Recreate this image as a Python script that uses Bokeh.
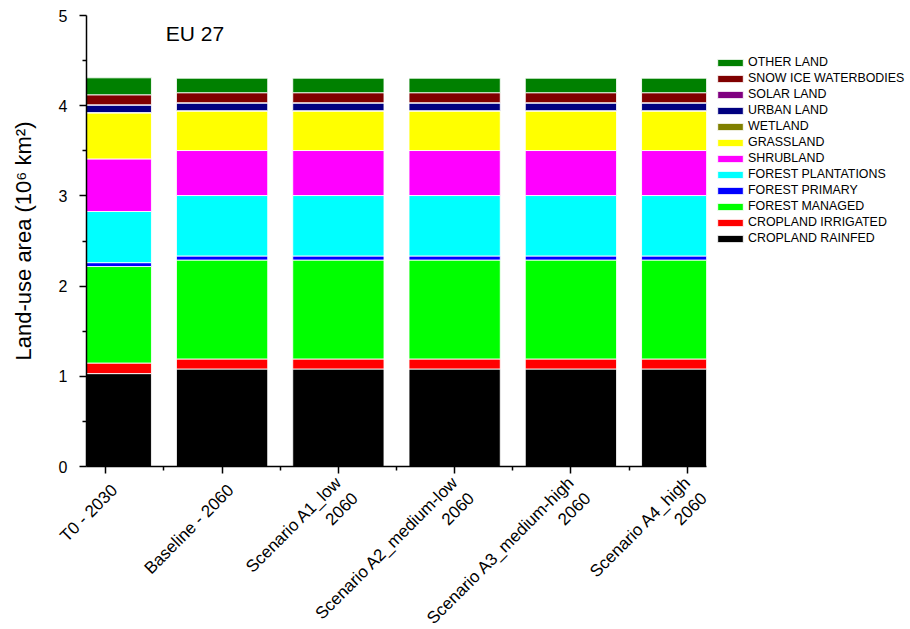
import math
from bokeh.plotting import figure
from bokeh.models import (Range1d, FixedTicker, Legend, LegendItem, Label,
                          ColumnDataSource, LinearAxis, CustomLabelingPolicy)
from bokeh.embed import file_html
from bokeh.resources import INLINE

# ---------------- data ----------------
categories = ["T0 - 2030", "Baseline - 2060", "Scenario A1_low\n2060",
              "Scenario A2_medium-low\n2060", "Scenario A3_medium-high\n2060",
              "Scenario A4_high\n2060"]

series_names = ["CROPLAND RAINFED", "CROPLAND IRRIGATED", "FOREST MANAGED",
                "FOREST PRIMARY", "FOREST PLANTATIONS", "SHRUBLAND", "GRASSLAND",
                "WETLAND", "URBAN LAND", "SOLAR LAND", "SNOW ICE WATERBODIES",
                "OTHER LAND"]

cropland_rainfed   = [1.030, 1.081, 1.081, 1.081, 1.081, 1.081]
cropland_irrigated = [0.117, 0.111, 0.111, 0.111, 0.111, 0.111]
forest_managed     = [1.070, 1.097, 1.097, 1.097, 1.097, 1.097]
forest_primary     = [0.043, 0.045, 0.045, 0.045, 0.045, 0.045]
forest_plantations = [0.567, 0.670, 0.670, 0.670, 0.670, 0.670]
shrubland          = [0.583, 0.499, 0.499, 0.499, 0.499, 0.499]
grassland          = [0.510, 0.438, 0.438, 0.438, 0.438, 0.438]
wetland            = [0.004, 0.004, 0.004, 0.004, 0.004, 0.004]
urban_land         = [0.084, 0.085, 0.085, 0.085, 0.085, 0.085]
solar_land         = [0.002, 0.003, 0.003, 0.003, 0.003, 0.003]
snow_ice_water     = [0.111, 0.111, 0.111, 0.111, 0.111, 0.111]
other_land         = [0.188, 0.161, 0.161, 0.161, 0.161, 0.161]

series_values = [cropland_rainfed, cropland_irrigated, forest_managed,
                 forest_primary, forest_plantations, shrubland, grassland,
                 wetland, urban_land, solar_land, snow_ice_water, other_land]

colors = ["#000000", "#FF0000", "#00FF00", "#0000FF", "#00FFFF", "#FF00FF",
          "#FFFF00", "#808000", "#000080", "#800080", "#800000", "#008000"]

y_ticks = [0, 1, 2, 3, 4, 5]

# ---------------- build ----------------
FONT = "Liberation Sans"
xpos = list(range(len(categories)))
keys = ["s%d" % i for i in range(len(series_names))]
data = {"x": xpos}
for k, v in zip(keys, series_values):
    data[k] = v
source = ColumnDataSource(data)

X_PAD = 0.166
LABEL_SHIFT = 0.075  # labels sit slightly right of their ticks, as in the reference

p = figure(frame_width=620, frame_height=451, output_backend="svg",
           toolbar_location=None,
           x_range=Range1d(-X_PAD, len(categories) - 1 + X_PAD),
           y_range=Range1d(0, 5),
           min_border_left=86, min_border_right=204,
           min_border_top=15, min_border_bottom=10)
p.extra_x_ranges = {"labels": Range1d(-X_PAD - LABEL_SHIFT,
                                      len(categories) - 1 + X_PAD - LABEL_SHIFT)}

renderers = p.vbar_stack(keys, x="x", width=0.785, color=colors, source=source,
                         line_color="white", line_width=1, line_alpha=0.85)

p.xgrid.visible = False
p.ygrid.visible = False
p.outline_line_color = None

# x axis (line + ticks only)
xa = p.xaxis[0]
xa.ticker = FixedTicker(ticks=xpos, minor_ticks=[i + 0.5 for i in xpos[:-1]])
xa.major_label_policy = CustomLabelingPolicy(code="return new Set()")
xa.major_label_standoff = 0
xa.axis_line_width = 1.5
xa.axis_line_color = "black"
xa.major_tick_out = 7
xa.major_tick_in = 0
xa.minor_tick_out = 4
xa.minor_tick_in = 0
xa.major_tick_line_width = 1.5
xa.minor_tick_line_width = 1.5

# x tick labels
la = LinearAxis(x_range_name="labels",
                ticker=FixedTicker(ticks=xpos, minor_ticks=[]),
                major_label_overrides={i: c for i, c in zip(xpos, categories)},
                major_label_orientation=math.pi / 4,
                major_label_text_font=FONT, major_label_text_font_size="17px",
                major_label_text_color="black", major_label_standoff=3,
                axis_line_color=None, major_tick_line_color=None,
                minor_tick_line_color=None, major_tick_out=0, major_tick_in=0)
p.add_layout(la, "below")

# y axis
ya = p.yaxis[0]
ya.ticker = FixedTicker(ticks=y_ticks, minor_ticks=[t + 0.5 for t in y_ticks[:-1]])
ya.major_label_text_font = FONT
ya.major_label_text_font_size = "16px"
ya.major_label_text_color = "black"
ya.axis_line_width = 1.5
ya.axis_line_color = "black"
ya.major_tick_out = 7
ya.major_tick_in = 0
ya.minor_tick_out = 4
ya.minor_tick_in = 0
ya.major_tick_line_width = 1.5
ya.minor_tick_line_width = 1.5
ya.major_label_standoff = 12
ya.axis_label = "Land-use area (10\u2076 km\u00b2)"
ya.axis_label_text_font = FONT
ya.axis_label_text_font_style = "normal"
ya.axis_label_text_font_size = "22px"
ya.axis_label_text_color = "black"
ya.axis_label_standoff = 20

# title label
p.add_layout(Label(x=0.516, y=4.93, text="EU 27", text_font=FONT,
                   text_font_size="21px", text_color="black",
                   text_baseline="top"))

# legend (reversed order: top = OTHER LAND)
items = [LegendItem(label=n, renderers=[r])
         for n, r in zip(series_names, renderers)][::-1]
legend = Legend(items=items, location=(8, 221), padding=0, margin=0,
                border_line_color=None, background_fill_alpha=0,
                glyph_width=32, glyph_height=9, label_height=12,
                label_standoff=2, spacing=2,
                label_text_font=FONT, label_text_font_size="12.4px",
                label_text_color="black")
p.add_layout(legend, "right")

open("out.html", "w").write(file_html(p, INLINE))
